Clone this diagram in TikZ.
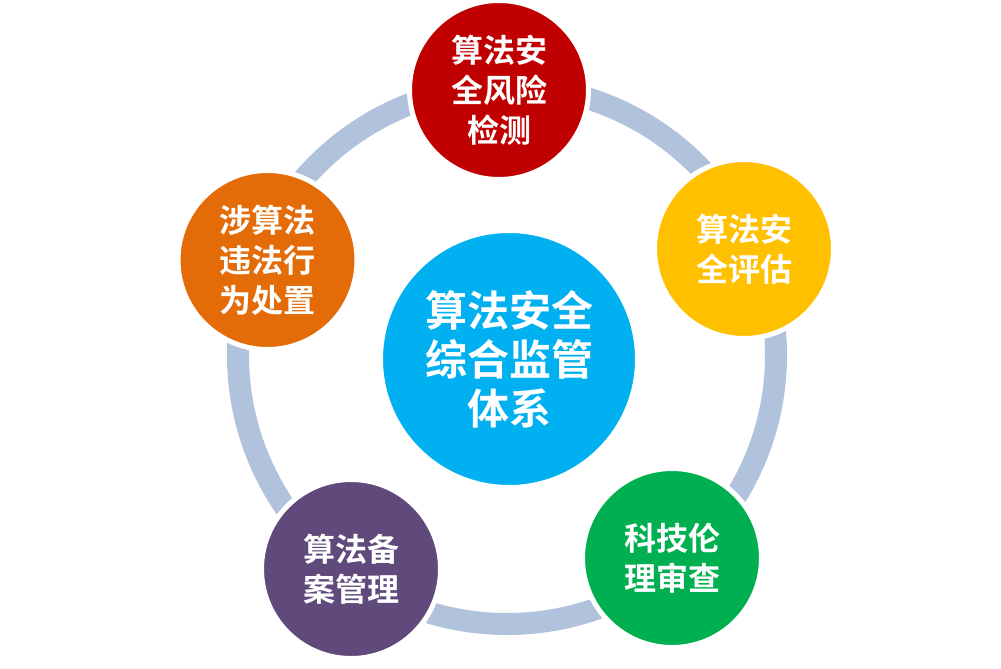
\documentclass[tikz,border=0pt]{standalone}
\usepackage{fontspec}
\newfontfamily\cjk{Noto Sans CJK SC}[BoldFont={* Bold}]
\definecolor{ringc}{HTML}{B0C2DC}
\definecolor{cred}{HTML}{C00000}
\definecolor{cyellow}{HTML}{FFC000}
\definecolor{cgreen}{HTML}{00B050}
\definecolor{cpurple}{HTML}{604A7B}
\definecolor{corange}{HTML}{E36C09}
\definecolor{cblue}{HTML}{00B0F0}
\tikzset{
  petal/.style={circle, draw=white, line width=5pt, minimum size=179pt, inner sep=0pt,
    text=white, align=center, font=\cjk\bfseries\fontsize{32pt}{40pt}\selectfont},
  hub/.style={circle, draw=white, line width=5pt, minimum size=257pt, inner sep=0pt,
    text=white, align=center, font=\cjk\bfseries\fontsize{42pt}{49pt}\selectfont},
  ring/.style={draw=ringc, line width=22pt}
}
\begin{document}
\begin{tikzpicture}[x=1pt,y=-1pt]
\useasboundingbox (0,0) rectangle (1001,669);
\coordinate (rc) at (507,355);
\draw[ring] (rc) circle (269);
\node[hub, fill=cblue] (hub) at (509,359) {算法安全\\综合监管\\体系};
\node[petal, fill=cred] (p1) at (499,90) {算法安\\全风险\\检测};
\node[petal, fill=cyellow] (p2) at (744,249) {算法安\\全评估};
\node[petal, fill=cgreen] (p3) at (672,558) {科技伦\\理审查};
\node[petal, fill=cpurple] (p4) at (351,569) {算法备\\案管理};
\node[petal, fill=corange] (p5) at (267.5,260) {涉算法\\违法行\\为处置};
\end{tikzpicture}
\end{document}
